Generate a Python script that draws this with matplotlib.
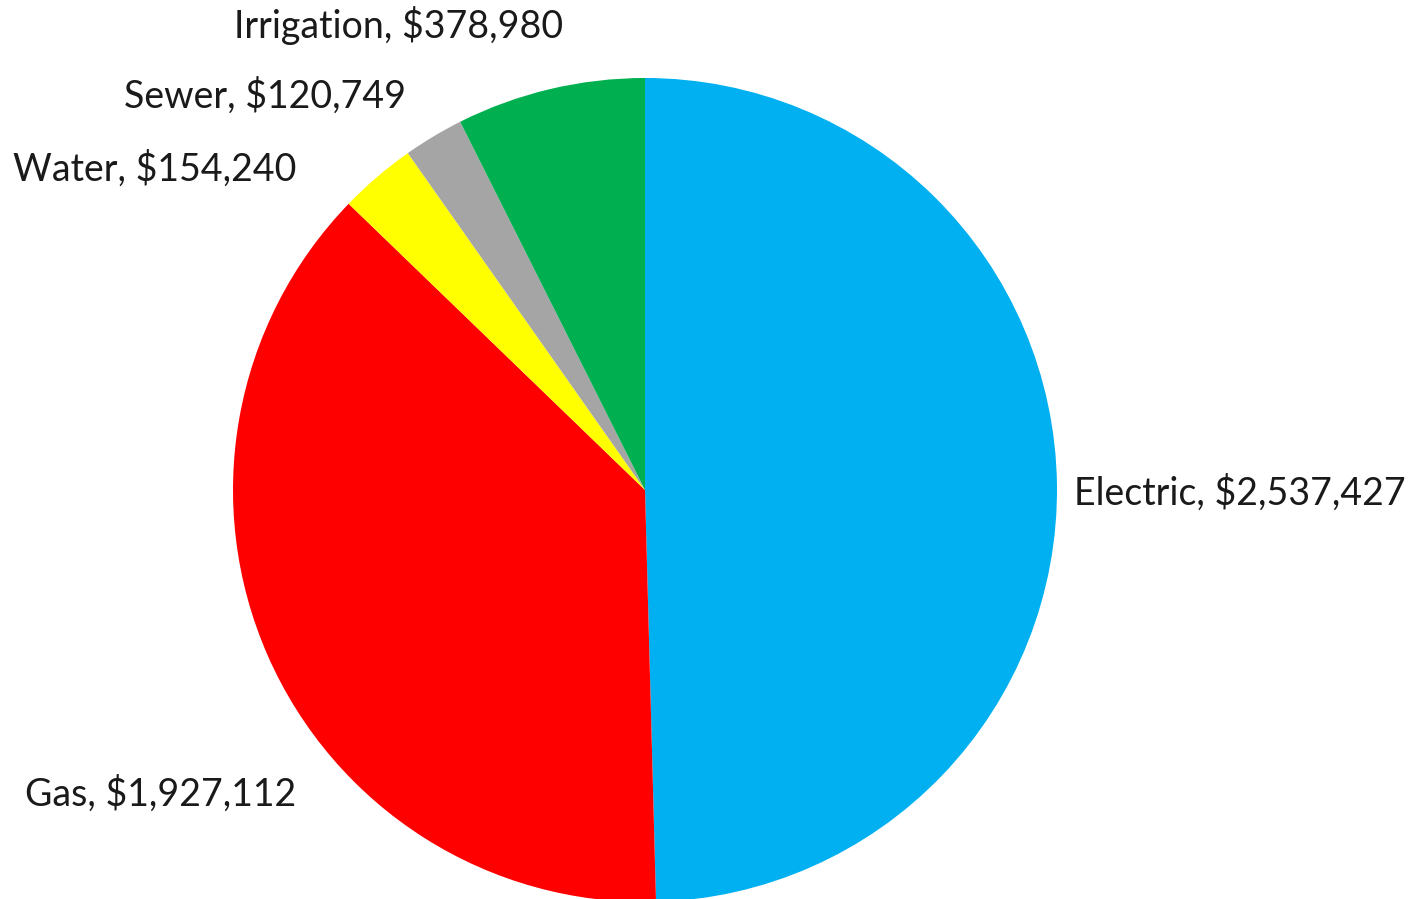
import matplotlib
matplotlib.use('Agg')
import matplotlib.pyplot as plt

categories = ['Electric', 'Gas', 'Water', 'Sewer', 'Irrigation']
costs = [2537427, 1927112, 154240, 120749, 378980]
colors = ['#00B0F0', '#FF0000', '#FFFF00', '#A5A5A5', '#00B050']

# label anchors (data units, pie radius = 1)
label_x = [1.041, -0.847, -0.845, -0.581, -0.199]
label_y = [-0.007, -0.738, 0.780, 0.956, 1.128]
label_ha = ['left', 'right', 'right', 'right', 'right']

plt.rcParams['font.family'] = ['Lato', 'DejaVu Sans']

fig = plt.figure(figsize=(14.22, 8.99), dpi=100)
ax = fig.add_axes([0, 0, 1, 1])
ax.pie(costs, colors=colors, startangle=90, counterclock=False, radius=1.0)

for name, val, x, y, ha in zip(categories, costs, label_x, label_y, label_ha):
    ax.text(x, y, f'{name}, ${val:,}', ha=ha, va='center', fontsize=27, color='#1a1a1a')

ax.set_xlim(-645 / 412, (1422 - 645) / 412)
ax.set_ylim(-409 / 412, 490 / 412)
ax.set_aspect('equal', adjustable='datalim')
ax.axis('off')

fig.savefig('out.png', dpi=100)
